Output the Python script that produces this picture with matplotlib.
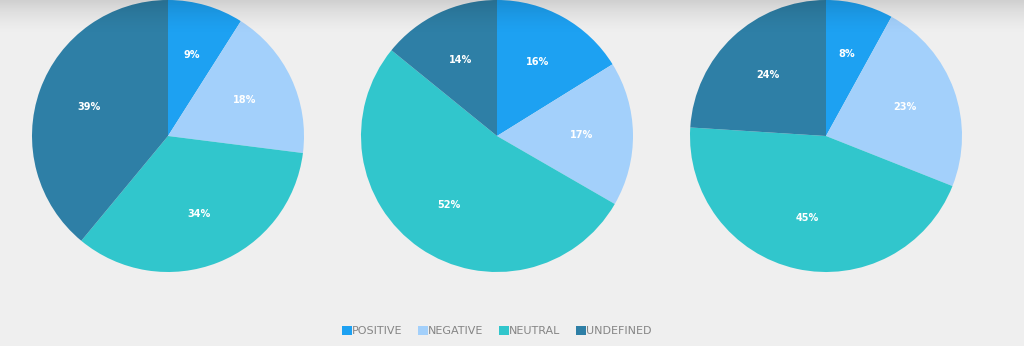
import numpy as np
import matplotlib.pyplot as plt
from matplotlib.patches import Patch

categories = ['POSITIVE', 'NEGATIVE', 'NEUTRAL', 'UNDEFINED']
pie1 = [9, 18, 34, 39]
pie2 = [16, 17, 52, 14]
pie3 = [8, 23, 45, 24]
colors = ['#1da1f2', '#a3d0fb', '#31c6cc', '#2e7fa6']

W, H = 1024, 346
bg = '#efefef'
fig = plt.figure(figsize=(W / 100, H / 100), dpi=100, facecolor=bg)

centers = [168, 497, 826]
r = 136

for cx, vals in zip(centers, [pie1, pie2, pie3]):
	ax = fig.add_axes([(cx - r) / W, (H - 2 * r) / H, 2 * r / W, 2 * r / H])
	ax.set_facecolor('none')
	ax.pie(vals, colors=colors, startangle=90, counterclock=False,
		   autopct='%d%%', pctdistance=0.62, radius=1,
		   textprops=dict(color='white', fontsize=7, fontweight='bold'))
	ax.set_xlim(-1, 1)
	ax.set_ylim(-1, 1)
	ax.set_aspect('auto')
	ax.axis('off')

# top shadow
n = 36
sh = fig.add_axes([0, (H - n) / H, 1, n / H], zorder=10)
grad = np.zeros((n, 2, 4))
a = 0.13 * np.linspace(1, 0, n) ** 1.6
grad[:, :, 3] = a[:, None]
sh.imshow(grad, aspect='auto', extent=[0, 1, 0, 1], interpolation='bilinear')
sh.axis('off')

handles = [Patch(facecolor=c, edgecolor='none') for c in colors]
leg = fig.legend(handles, categories, loc='center', bbox_to_anchor=(0.485, 1 - 331 / H),
				 ncol=4, frameon=False, handlelength=0.9, handleheight=0.9,
				 handletextpad=0.0, columnspacing=1.4, fontsize=8)
for t in leg.get_texts():
	t.set_color('#858585')

fig.savefig('out.png', dpi=100, facecolor=bg)
